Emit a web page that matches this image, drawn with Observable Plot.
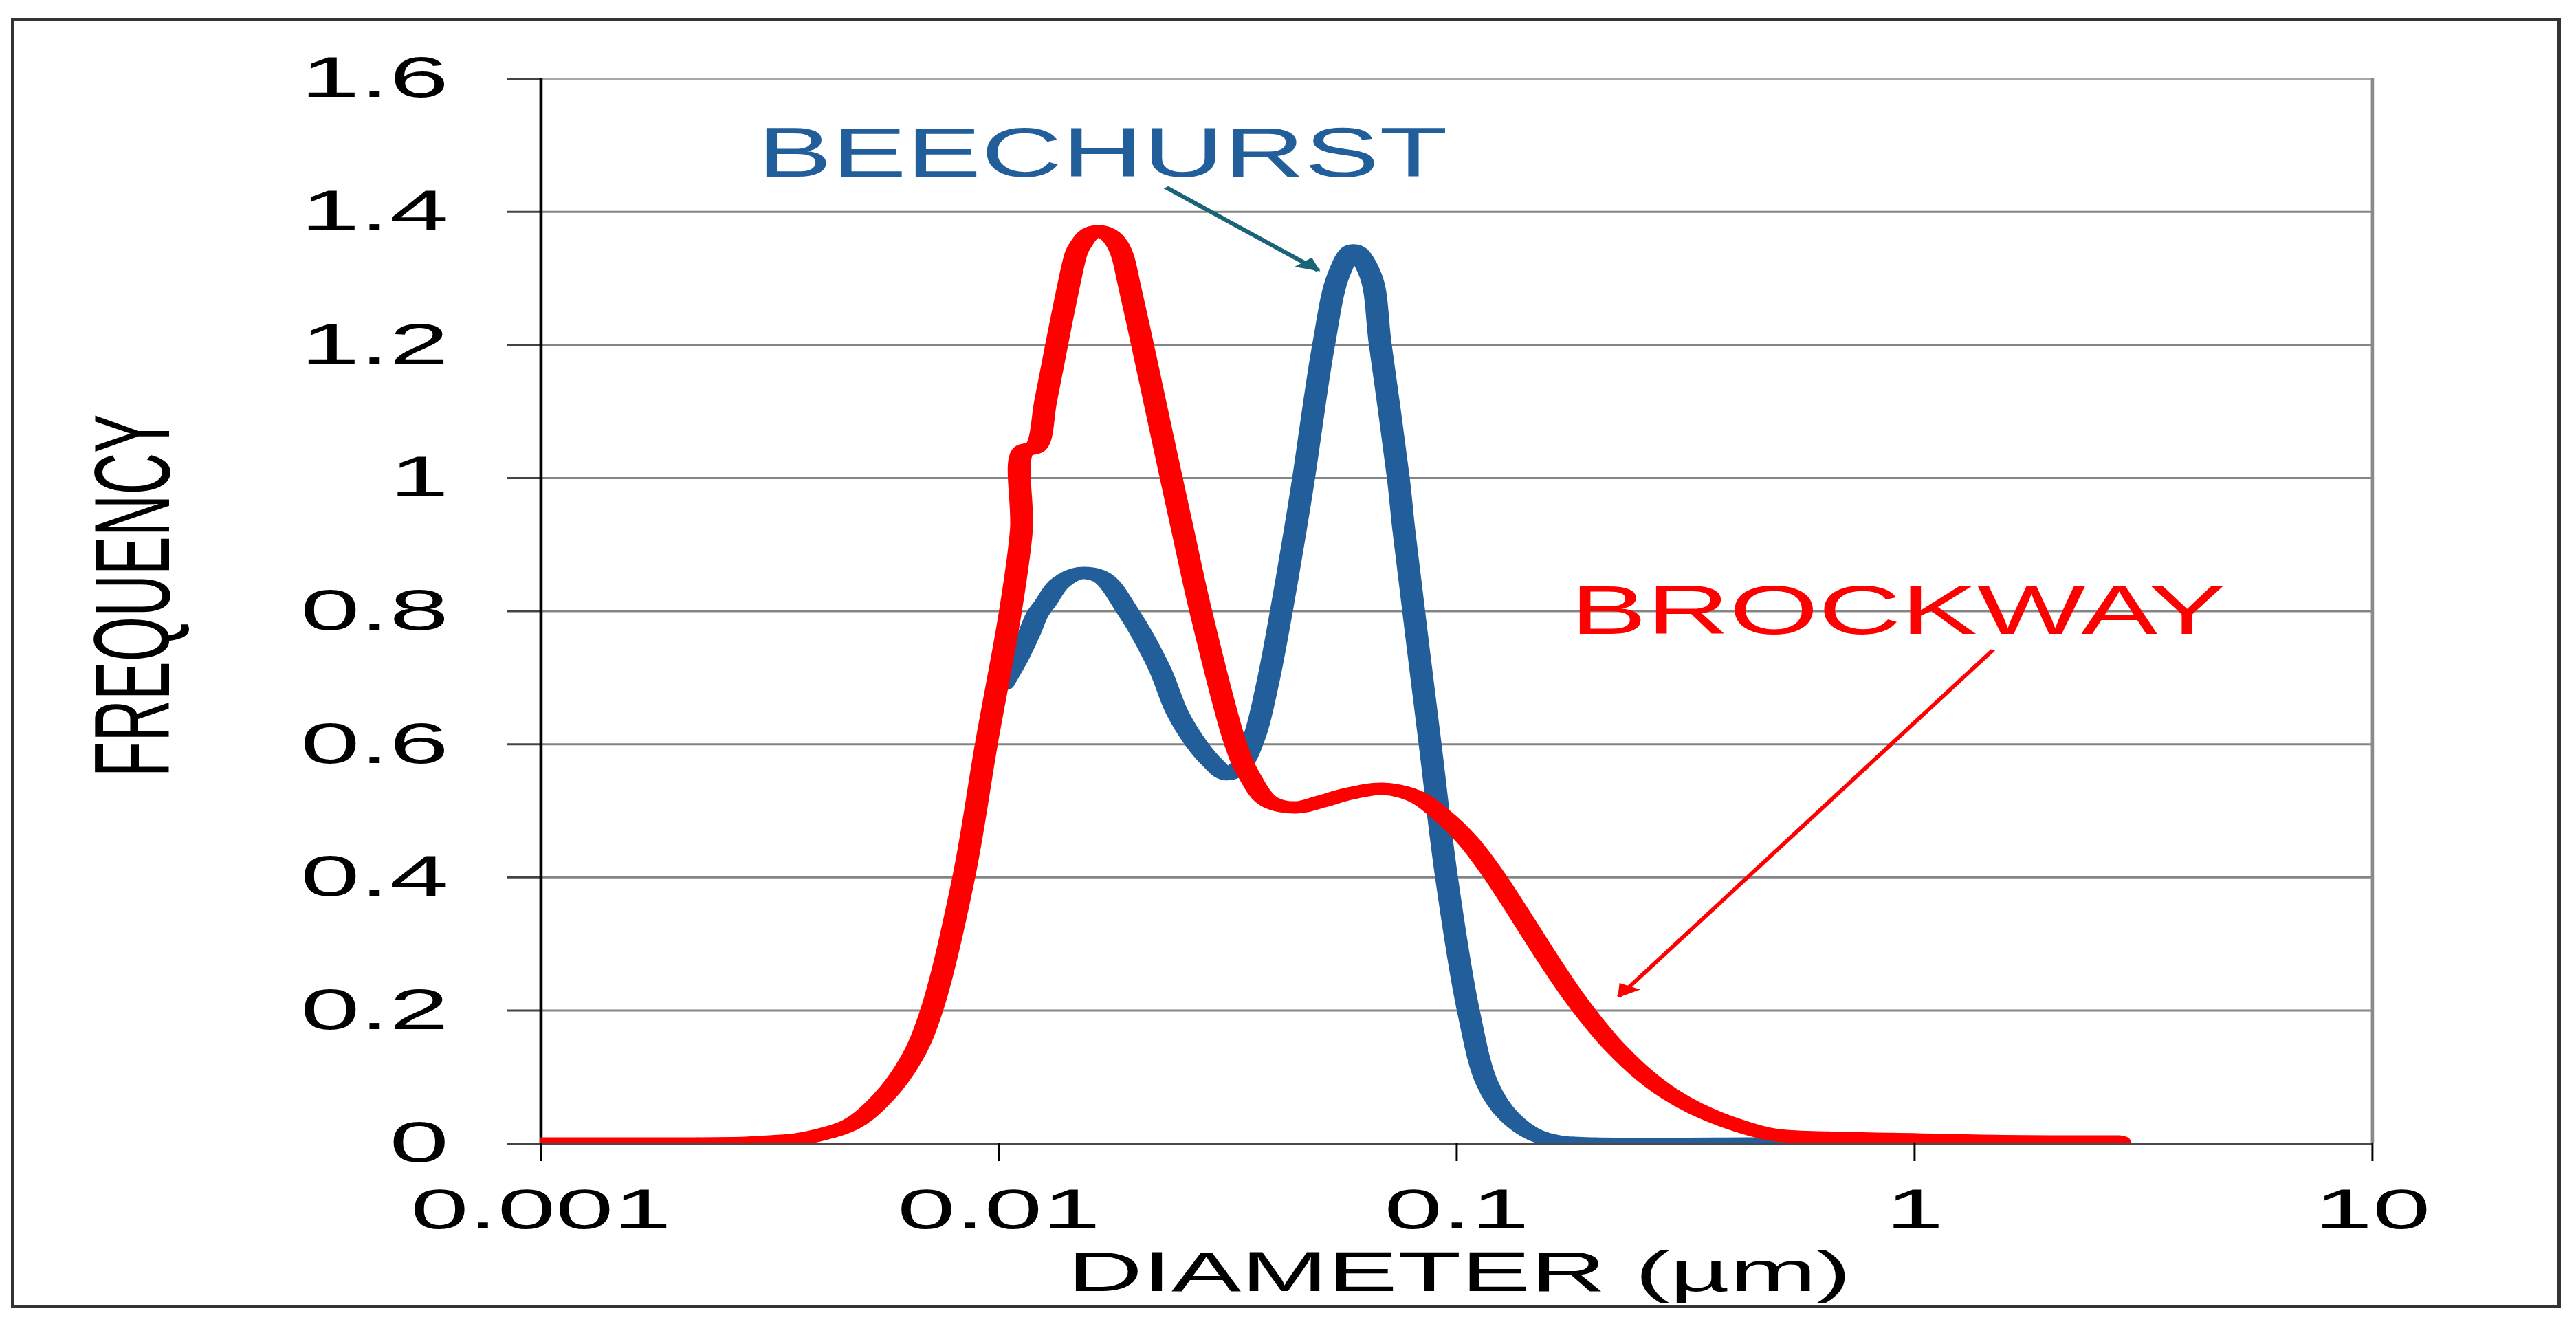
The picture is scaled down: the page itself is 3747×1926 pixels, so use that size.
<!DOCTYPE html>
<html>
<head>
<meta charset="utf-8">
<script src="https://cdn.jsdelivr.net/npm/d3@7"></script>
<script src="https://cdn.jsdelivr.net/npm/@observablehq/plot@0.6"></script>
<style>
  html, body { margin: 0; padding: 0; background: #ffffff; }
  #wrap { position: relative; width: 3747px; height: 1926px; overflow: hidden; background: #ffffff; }
  #outer { position: absolute; left: 16px; top: 26px; width: 3709px; height: 1876px; box-sizing: border-box;
           border-style: solid; border-color: #333333; border-width: 4px 5px 4px 5px; pointer-events: none; }
</style>
</head>
<body>
<div id="wrap"><div id="chart"></div><div id="outer"></div></div>
<script>
// ---- data ----
const beechurstDiameter = [0.0102, 0.0110, 0.01166, 0.01213, 0.01264, 0.01359, 0.01504, 0.01665, 0.01911, 0.02236, 0.02455, 0.02705, 0.0293, 0.0315, 0.0335, 0.0361, 0.0386, 0.0414, 0.0444, 0.0463, 0.0512, 0.0552, 0.0595, 0.0648, 0.0681, 0.07455, 0.07664, 0.0874, 0.095, 0.106, 0.1168, 0.130, 0.148, 0.167, 0.2, 0.5, 1.0, 2.0];
const beechurstFrequency = [0.69, 0.73, 0.767, 0.795, 0.812, 0.842, 0.857, 0.852, 0.80, 0.716, 0.647, 0.60, 0.572, 0.555, 0.565, 0.61, 0.69, 0.80, 0.922, 1.0, 1.2, 1.305, 1.342, 1.305, 1.2, 1.0, 0.922, 0.602, 0.4, 0.2, 0.089, 0.041, 0.013, 0.003, 0, 0, 0, 0];

const brockwayDiameter = [0.001, 0.002, 0.0028, 0.00312, 0.0036, 0.00406, 0.00476, 0.00557, 0.00645, 0.00713, 0.00838, 0.0094, 0.0106, 0.0112, 0.01133, 0.0120, 0.01265, 0.01337, 0.01418, 0.0148, 0.01514, 0.0156, 0.0160, 0.01652, 0.0170, 0.0175, 0.01811, 0.0186, 0.01927, 0.0206, 0.0219, 0.0238, 0.0252, 0.0276, 0.0329, 0.0351, 0.0391, 0.0445, 0.0507, 0.0577, 0.0688, 0.0805, 0.0918, 0.1055, 0.120, 0.137, 0.156, 0.178, 0.204, 0.2233, 0.2546, 0.2905, 0.3317, 0.4045, 0.4932, 0.643, 0.895, 1.5, 2.8];
const brockwayFrequency = [0, 0, 0.001, 0.003, 0.006, 0.013, 0.029, 0.068, 0.128, 0.2, 0.4, 0.602, 0.8, 0.922, 1.041, 1.046, 1.115, 1.2, 1.287, 1.34, 1.352, 1.364, 1.369, 1.371, 1.369, 1.364, 1.352, 1.335, 1.29, 1.2, 1.115, 1.0, 0.922, 0.8, 0.6, 0.555, 0.513, 0.505, 0.514, 0.525, 0.533, 0.523, 0.496, 0.456, 0.4055, 0.345, 0.284, 0.2255, 0.1726, 0.1421, 0.1049, 0.0753, 0.053, 0.0289, 0.0132, 0.009, 0.007, 0.004, 0.003];

const xTicks = [0.001, 0.01, 0.1, 1, 10];
const yTicks = [0, 0.2, 0.4, 0.6, 0.8, 1, 1.2, 1.4, 1.6];
const gridValues = [0.2, 0.4, 0.6, 0.8, 1, 1.2, 1.4];
const topValue = [1.6];

const seriesNames = ["BEECHURST", "BROCKWAY"];
const labelDiameter = [0.01683, 0.919];
const labelFrequency = [1.4533, 0.7654];
const arrowFromDiameter = [0.02317, 1.483];
const arrowFromFrequency = [1.4368, 0.7417];
const arrowToDiameter = [0.04992, 0.2261];
const arrowToFrequency = [1.3118, 0.221];

const xLabel = "DIAMETER (µm)";
const yLabel = "FREQUENCY";

// ---- tables ----
const beechurst = beechurstDiameter.map((d, i) => ({d, f: beechurstFrequency[i]}));
const brockway = brockwayDiameter.map((d, i) => ({d, f: brockwayFrequency[i]}));
const labels = seriesNames.map((name, i) => ({name, d: labelDiameter[i], f: labelFrequency[i]}));
const arrows = seriesNames.map((name, i) => ({name, d1: arrowFromDiameter[i], f1: arrowFromFrequency[i], d2: arrowToDiameter[i], f2: arrowToFrequency[i]}));

const BLUE = "#225f9a";
const RED = "#ff0000";
const TEAL = "#1a6379";

const W = 2026, H = 1926, FULLW = 3747;

const svg = Plot.plot({
  width: W,
  height: H,
  marginLeft: 425,
  marginRight: 160.6,
  marginTop: 114,
  marginBottom: 263,
  style: {fontFamily: "'Liberation Sans', Arial, sans-serif", color: "black", background: "white"},
  x: {type: "log", domain: [0.001, 10]},
  y: {domain: [0, 1.6]},
  marks: [
    Plot.ruleY(gridValues, {stroke: "#858585", strokeWidth: 3}),
    Plot.ruleY(topValue, {stroke: "#a8a8a8", strokeWidth: 3}),
    Plot.ruleX([10], {stroke: "#8a8a8a", strokeWidth: 2.5}),
    Plot.ruleY([0], {stroke: "#4a4a4a", strokeWidth: 3}),
    Plot.axisX({ticks: xTicks, tickFormat: d => String(d), tickSize: 26, tickPadding: 39, fontSize: 82, stroke: "black", strokeWidth: 1.6, label: null, anchor: "bottom"}),
    Plot.axisY({ticks: yTicks, tickFormat: d => String(d), tickSize: 26.5, tickPadding: 46, fontSize: 84, stroke: "#444", strokeWidth: 3, label: null, anchor: "left"}),
    Plot.ruleX([0.001], {stroke: "black", strokeWidth: 2.5}),
    Plot.line(beechurst, {x: "d", y: "f", stroke: BLUE, strokeWidth: 18, curve: "catmull-rom", clip: true, strokeLinejoin: "round"}),
    Plot.line(brockway, {x: "d", y: "f", stroke: RED, strokeWidth: 18, curve: "catmull-rom", clip: true, strokeLinejoin: "round"}),
    Plot.link(arrows.slice(0, 1), {x1: "d1", y1: "f1", x2: "d2", y2: "f2", stroke: TEAL, strokeWidth: 5}),
    Plot.link(arrows.slice(1, 2), {x1: "d1", y1: "f1", x2: "d2", y2: "f2", stroke: RED, strokeWidth: 4}),
    Plot.text(labels.slice(0, 1), {x: "d", y: "f", text: "name", fill: BLUE, fontSize: 102, lineAnchor: "bottom", textAnchor: "middle"}),
    Plot.text(labels.slice(1, 2), {x: "d", y: "f", text: "name", fill: RED, fontSize: 100, lineAnchor: "bottom", textAnchor: "middle"}),
    Plot.text([xLabel], {text: d => d, frameAnchor: "bottom", lineAnchor: "bottom", textAnchor: "middle", dy: 214, dx: 2, fontSize: 82, fill: "black"}),
    Plot.text([yLabel], {text: d => d, frameAnchor: "left", textAnchor: "middle", rotate: -90, dx: -319.6, dy: -22.5, fontSize: 84, fill: "black"})
  ]
});

// stretch horizontally like the reference picture
svg.setAttribute("viewBox", `0 0 ${W} ${H}`);
svg.setAttribute("preserveAspectRatio", "none");
svg.setAttribute("width", FULLW);
svg.setAttribute("height", H);
svg.style.width = FULLW + "px";
svg.style.height = H + "px";
svg.style.maxWidth = "none";
svg.style.display = "block";

// filled arrow heads
const sel = d3.select(svg);
const defs = sel.insert("defs", ":first-child");
function head(id, color) {
  defs.append("marker").attr("id", id).attr("viewBox", "0 0 10 10").attr("refX", 9).attr("refY", 5)
    .attr("markerUnits", "userSpaceOnUse").attr("markerWidth", 32).attr("markerHeight", 19).attr("orient", "auto")
    .attr("overflow", "visible")
    .append("path").attr("d", "M0,0L10,5L0,10z").attr("fill", color);
}
head("head-b", TEAL);
head("head-r", RED);
const headIds = ["head-b", "head-r"];
const linkGroups = sel.selectAll('g[aria-label="link"]').nodes();
linkGroups.forEach((g, i) => {
  const id = headIds[Math.min(i, 1)];
  d3.select(g).selectAll("path, line").attr("marker-end", `url(#${id})`);
});

// label widths as in the reference
sel.selectAll("text").filter(function () { return this.textContent === "BEECHURST"; })
  .attr("textLength", 543).attr("lengthAdjust", "spacingAndGlyphs");
sel.selectAll("text").filter(function () { return this.textContent === "BROCKWAY"; })
  .attr("textLength", 515).attr("lengthAdjust", "spacingAndGlyphs");

document.getElementById("chart").appendChild(svg);
</script>
</body>
</html>
